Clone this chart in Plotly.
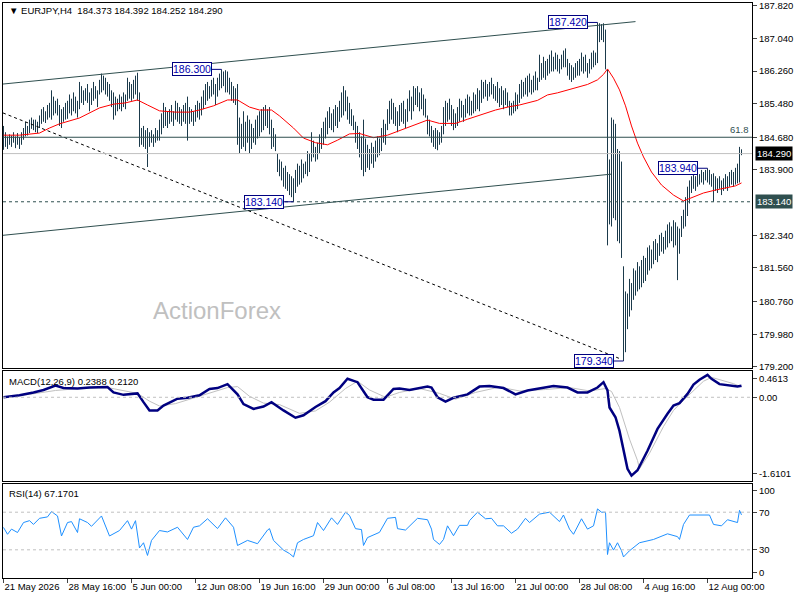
import plotly.graph_objects as go

# EURJPY H4 bars (high / low per bar)
highs = [
    184.95, 184.80, 184.70, 184.75, 184.72, 184.80, 184.70, 184.78, 184.68, 184.80, 184.90, 185.05, 184.95, 185.10, 185.15, 185.10,
    185.10, 185.05, 185.20, 185.35, 185.40, 185.30, 185.45, 185.50, 185.80, 185.65, 185.55, 185.60, 185.45, 185.35, 185.40, 185.50,
    185.55, 185.70, 185.60, 185.75, 185.65, 185.55, 186.00, 185.90, 185.80, 185.85, 185.95, 185.75, 185.85, 186.00, 185.90, 185.80,
    186.05, 186.20, 186.15, 186.10, 186.00, 185.95, 185.80, 185.75, 185.65, 185.60, 185.70, 185.65, 185.75, 185.70, 186.10, 186.00,
    185.95, 186.05, 186.15, 186.22, 185.75, 184.90, 184.95, 184.85, 184.90, 184.80, 184.85, 184.75, 184.90, 184.85, 185.10, 185.25,
    185.50, 185.40, 185.30, 185.35, 185.45, 185.30, 185.55, 185.50, 185.40, 185.35, 185.45, 185.50, 185.65, 185.40, 185.35, 185.30,
    185.45, 185.55, 185.50, 185.65, 185.80, 185.95, 186.00, 185.90, 186.05, 186.10, 185.95, 186.10, 186.20, 186.30, 186.25, 186.28,
    186.25, 186.10, 186.00, 185.90, 185.85, 185.95, 185.15, 185.00, 185.30, 185.05, 185.20, 185.10, 185.00, 184.90, 185.10, 185.20,
    185.30, 185.35, 185.40, 185.45, 185.35, 185.40, 185.10, 184.90, 184.75, 184.30, 184.15, 184.10, 183.95, 184.00, 183.85, 183.80,
    183.75, 183.70, 183.90, 184.05, 184.00, 184.15, 184.05, 184.10, 184.35, 184.30, 184.80, 184.60, 184.45, 184.55, 184.75, 184.90,
    185.05, 185.15, 185.30, 185.40, 185.25, 185.35, 185.45, 185.40, 185.55, 185.75, 185.90, 185.80, 185.65, 185.50, 185.35, 185.20,
    185.05, 184.95, 184.80, 184.70, 185.10, 184.65, 184.50, 184.40, 184.55, 184.45, 184.60, 184.70, 184.65, 184.90, 185.10, 185.00,
    185.35, 185.55, 185.60, 185.50, 185.40, 185.30, 185.45, 185.50, 185.55, 185.35, 185.60, 185.80, 185.65, 185.90, 185.85, 185.90,
    185.75, 185.85, 185.70, 185.60, 185.20, 185.10, 184.95, 184.85, 184.90, 184.85, 184.80, 184.95, 185.40, 185.55, 185.50, 185.60,
    185.45, 185.35, 185.25, 185.40, 185.60, 185.55, 185.45, 185.60, 185.70, 185.65, 185.55, 185.75, 185.70, 185.85, 185.80, 186.05,
    186.00, 186.05, 185.95, 186.00, 186.10, 185.95, 185.90, 186.00, 185.85, 185.90, 185.80, 185.85, 185.75, 185.55, 185.50, 185.55,
    185.75, 185.70, 185.95, 186.05, 186.00, 186.10, 186.15, 186.20, 186.05, 186.15, 186.25, 186.10, 186.65, 186.45, 186.60, 186.50,
    186.55, 186.65, 186.75, 186.60, 186.70, 186.65, 186.55, 186.65, 186.75, 186.80, 186.55, 186.45, 186.40, 186.35, 186.45, 186.50,
    186.55, 186.70, 186.60, 186.65, 186.45, 186.55, 186.70, 186.75, 186.70, 187.42, 187.40, 187.38, 187.40, 187.25, 186.30, 184.15,
    185.15, 185.10, 185.00, 184.40, 184.35, 184.10, 181.60, 181.00, 180.95, 181.30, 181.20, 181.55, 181.50, 181.70, 181.60, 181.75,
    181.85, 181.80, 182.05, 182.10, 182.00, 182.20, 182.25, 182.15, 182.35, 182.40, 182.30, 182.45, 182.60, 182.65, 182.55, 182.70,
    182.65, 182.55, 182.50, 182.80, 182.95, 183.25, 183.50, 183.65, 183.75, 183.80, 183.75, 183.85, 183.80, 183.90, 183.85, 183.90,
    183.94, 183.90, 183.80, 183.82, 183.75, 183.70, 183.75, 183.65, 183.70, 183.80, 183.75, 183.85, 183.90, 183.85, 183.95, 184.05,
    184.45, 184.392,
]
lows = [
    184.38, 184.45, 184.40, 184.50, 184.45, 184.55, 184.42, 184.50, 184.40, 184.50, 184.62, 184.70, 184.72, 184.78, 184.88, 184.85,
    184.80, 184.78, 184.90, 185.00, 185.05, 185.02, 185.10, 185.15, 185.10, 185.20, 185.25, 185.20, 184.95, 184.90, 185.05, 185.10,
    185.12, 185.25, 185.20, 185.30, 185.25, 185.15, 185.35, 185.50, 185.45, 185.55, 185.50, 185.30, 185.45, 185.55, 185.60, 185.40,
    185.70, 185.75, 185.80, 185.70, 185.65, 185.55, 185.40, 185.10, 185.20, 185.30, 185.35, 185.30, 185.40, 185.35, 185.55, 185.60,
    185.55, 185.60, 185.70, 185.55, 184.45, 184.50, 184.45, 184.40, 183.97, 184.45, 184.55, 184.45, 184.55, 184.60, 184.60, 184.75,
    184.90, 184.95, 184.90, 185.00, 185.05, 184.95, 185.10, 185.05, 185.00, 184.95, 185.05, 185.00, 184.60, 185.00, 185.05, 184.95,
    185.05, 185.15, 185.10, 185.20, 185.35, 185.45, 185.55, 185.60, 185.65, 185.70, 185.45, 185.65, 185.80, 185.85, 185.90, 185.75,
    185.75, 185.70, 185.55, 185.50, 185.45, 184.50, 184.30, 184.40, 184.45, 184.35, 184.55, 184.30, 184.40, 184.55, 184.50, 184.65,
    184.70, 184.80, 184.85, 184.95, 184.90, 184.75, 184.40, 184.45, 184.35, 183.85, 183.75, 183.65, 183.50, 183.45, 183.40, 183.30,
    183.25, 183.14, 183.35, 183.50, 183.55, 183.60, 183.70, 183.80, 183.75, 183.85, 184.10, 184.20, 184.10, 184.15, 184.30, 184.40,
    184.50, 184.65, 184.75, 184.90, 184.85, 184.80, 184.95, 184.90, 185.05, 185.15, 185.20, 185.30, 185.10, 185.00, 184.95, 184.85,
    184.55, 184.40, 184.20, 183.90, 183.75, 183.85, 183.95, 183.90, 184.05, 183.95, 184.10, 184.20, 184.25, 184.35, 184.55, 184.50,
    184.85, 185.00, 185.10, 185.00, 184.95, 184.80, 184.95, 185.05, 185.00, 184.90, 185.05, 185.30, 185.10, 185.30, 185.45, 185.40,
    185.30, 185.35, 185.20, 185.15, 184.75, 184.70, 184.55, 184.45, 184.40, 184.37, 184.50, 184.55, 184.75, 184.95, 185.05, 185.10,
    184.95, 184.85, 184.90, 184.95, 185.05, 185.15, 185.05, 185.15, 185.25, 185.20, 185.20, 185.25, 185.30, 185.35, 185.30, 185.50,
    185.60, 185.65, 185.55, 185.65, 185.70, 185.60, 185.55, 185.50, 185.40, 185.45, 185.35, 185.45, 185.40, 185.20, 185.20, 185.25,
    185.30, 185.35, 185.50, 185.60, 185.65, 185.70, 185.65, 185.75, 185.70, 185.75, 185.80, 185.80, 186.00, 186.05, 186.10, 186.05,
    186.15, 186.20, 186.25, 186.25, 186.30, 186.25, 186.20, 186.30, 186.35, 186.35, 186.15, 186.05, 186.00, 186.05, 186.10, 186.15,
    186.15, 186.25, 186.20, 186.25, 186.10, 186.20, 186.30, 186.35, 186.40, 186.45, 186.95, 187.00, 186.95, 186.30, 182.10, 182.60,
    182.55, 182.75, 182.70, 182.20, 182.15, 181.80, 179.34, 179.55, 180.10, 180.40, 180.55, 180.80, 180.90, 181.00, 181.05, 181.10,
    181.20, 181.25, 181.40, 181.50, 181.55, 181.65, 181.75, 181.70, 181.85, 181.95, 181.90, 182.00, 182.05, 182.15, 182.20, 182.05,
    182.10, 181.27, 181.90, 182.30, 182.50, 182.55, 182.80, 183.10, 183.35, 183.45, 183.40, 183.50, 183.55, 183.60, 183.55, 183.65,
    183.60, 183.55, 183.50, 183.14, 183.40, 183.35, 183.45, 183.30, 183.40, 183.45, 183.40, 183.50, 183.55, 183.50, 183.55, 183.58,
    183.60, 184.252,
]
last_ohlc = [184.373, 184.392, 184.252, 184.290]

# red moving average (bar index, value)
ma_idx = [0, 8, 18, 23, 28, 38, 48, 55, 61, 67, 72, 78, 86, 93, 98, 105, 112, 117, 123, 128, 134, 138,
          145, 150, 156, 162, 167, 173, 178, 185, 192, 198, 205, 212, 218, 226, 232, 238, 246, 253, 258,
          267, 272, 277, 285, 292, 297, 300, 302, 305, 308, 311, 314, 317, 320, 324, 329, 335, 340, 345,
          350, 356, 362, 366, 369]
ma_val = [184.73, 184.73, 184.78, 184.90, 185.00, 185.14, 185.38, 185.47, 185.50, 185.57, 185.45, 185.31,
          185.28, 185.28, 185.33, 185.43, 185.57, 185.57, 185.40, 185.33, 185.33, 185.19, 184.90, 184.66,
          184.55, 184.50, 184.61, 184.76, 184.77, 184.67, 184.73, 184.84, 184.97, 185.09, 185.01, 185.01,
          185.11, 185.21, 185.33, 185.41, 185.45, 185.56, 185.69, 185.74, 185.85, 185.94, 186.05, 186.18,
          186.31, 186.09, 185.81, 185.43, 184.95, 184.54, 184.21, 183.85, 183.54, 183.30, 183.16, 183.25,
          183.35, 183.42, 183.47, 183.52, 183.59]

# MACD(12,26,9)
macd_idx = [0, 8, 15, 20, 26, 30, 37, 43, 52, 55, 60, 67, 70, 73, 77, 80, 87, 92, 98, 103, 107, 112,
            117, 120, 125, 130, 134, 140, 146, 150, 156, 161, 165, 168, 172, 177, 182, 185, 190, 195,
            198, 203, 212, 214, 217, 221, 225, 232, 238, 243, 250, 256, 262, 268, 275, 282, 287, 292,
            297, 300, 302, 303, 306, 308, 310, 312, 314, 317, 322, 327, 332, 335, 338, 342, 345, 348,
            352, 354, 358, 363, 367, 369]
macd_val = [0.00, 0.04, 0.10, 0.15, 0.24, 0.19, 0.18, 0.20, 0.21, 0.10, 0.05, 0.08, -0.10, -0.27, -0.27,
            -0.17, -0.03, -0.01, 0.04, 0.17, 0.19, 0.27, 0.06, -0.14, -0.24, -0.19, -0.10, -0.27, -0.42,
            -0.37, -0.20, -0.08, 0.10, 0.19, 0.38, 0.31, 0.00, -0.05, -0.05, 0.17, 0.18, 0.15, 0.22, 0.20,
            0.00, -0.09, -0.01, 0.06, 0.22, 0.23, 0.19, 0.06, 0.14, 0.18, 0.23, 0.20, 0.10, 0.10, 0.20,
            0.31, 0.14, -0.21, -0.41, -0.69, -1.10, -1.47, -1.6101, -1.50, -1.10, -0.65, -0.34, -0.17,
            -0.12, 0.07, 0.26, 0.36, 0.4613, 0.38, 0.27, 0.24, 0.22, 0.2388]
signal_idx = [0, 13, 26, 38, 52, 58, 67, 73, 78, 86, 93, 103, 112, 117, 123, 130, 138, 148, 156, 163,
              171, 177, 183, 191, 198, 208, 218, 226, 236, 248, 258, 271, 283, 293, 301, 304, 308, 313,
              317, 318, 323, 330, 335, 340, 345, 350, 354, 358, 365, 369]
signal_val = [0.00, 0.06, 0.14, 0.18, 0.20, 0.15, 0.08, -0.08, -0.18, -0.13, -0.04, 0.08, 0.20, 0.22,
              0.02, -0.12, -0.15, -0.33, -0.28, -0.10, 0.18, 0.33, 0.15, 0.00, 0.10, 0.18, 0.08, -0.04,
              0.10, 0.21, 0.13, 0.16, 0.20, 0.13, 0.18, 0.12, -0.21, -0.86, -1.30, -1.47, -1.15, -0.60,
              -0.27, -0.06, 0.14, 0.33, 0.41, 0.36, 0.28, 0.2120]

# RSI(14)
rsi_idx = [0, 2, 4, 7, 10, 13, 15, 18, 22, 24, 27, 29, 32, 34, 37, 38, 42, 44, 49, 53, 58, 62, 64, 66,
           68, 70, 72, 74, 78, 82, 87, 92, 95, 98, 102, 107, 111, 115, 117, 122, 127, 132, 133, 135,
           140, 143, 145, 147, 150, 155, 157, 160, 164, 167, 171, 173, 176, 179, 180, 182, 188, 192,
           196, 197, 201, 205, 207, 212, 214, 215, 218, 220, 222, 225, 228, 232, 233, 237, 241, 244,
           247, 250, 254, 257, 261, 263, 268, 273, 278, 280, 283, 285, 289, 292, 295, 297, 299, 301,
           302, 303, 305, 307, 309, 310, 313, 318, 325, 332, 337, 338, 340, 343, 348, 353, 355, 359,
           362, 367, 368, 369]
rsi_val = [53.8, 46.5, 52, 48.4, 59, 61, 57, 63.5, 65, 70.7, 66, 44.7, 59, 60, 48.4, 63, 59, 55, 66,
           44.7, 50.5, 61, 52, 61, 32, 37.5, 24, 40, 50.5, 49, 54, 41, 54, 55.5, 63, 52.6, 64, 54, 34.6,
           40, 36.5, 51, 52.5, 40, 29.7, 26, 22.4, 37.5, 41, 45, 59, 50.5, 64, 57, 70, 66.5, 52.5, 51.5,
           34.6, 43, 48.6, 63.5, 64.5, 52.5, 51, 60, 63.5, 62, 52, 41, 35.7, 41, 55.5, 45, 56, 56, 61,
           70, 63, 63.5, 55.5, 55.5, 47.6, 52, 63.5, 59, 68, 70, 60, 67, 52, 46.5, 63, 52, 55.5, 73.5,
           70, 70, 25, 37.5, 29.7, 37.5, 29, 22.4, 29, 37.5, 41, 47, 44, 41, 57, 67, 67, 67, 57, 55.5,
           62, 59, 72, 67.1701]

# analyst lines: start index, start price, end index, end price
trend_lines = {
    "upper": (-0.25, 185.95, 316, 187.44),
    "lower": (-0.25, 182.34, 304, 183.80),
    "fall": (-0.25, 185.26, 309, 179.38),
}
fib_level = 184.68
support_level = 183.14
label_bars = [109, 145, 297, 310, 352]
label_side = ["high", "low", "high", "low", "high"]

tick_idx = [0, 32, 64, 96, 128, 160, 192, 224, 256, 288, 320, 352]
tick_text = ["21 May 2026", "28 May 16:00", "5 Jun 00:00", "12 Jun 08:00", "19 Jun 16:00",
             "29 Jun 00:00", "6 Jul 08:00", "13 Jul 16:00", "21 Jul 00:00", "28 Jul 08:00",
             "4 Aug 16:00", "12 Aug 00:00"]
price_ticks = [187.82, 187.04, 186.26, 185.48, 184.68, 183.90, 182.34, 181.56, 180.76, 179.98, 179.20]

FONT = "Liberation Sans"
BAR = "#1b3a4b"
SLATE = "#2f4f4f"

idx = list(range(len(highs)))
close = last_ohlc[3]

# each bar as a vertical stroke from low to high
bar_x, bar_y = [], []
for i, h, l in zip(idx, highs, lows):
    bar_x += [i, i, None]
    bar_y += [l, h, None]

fig = go.Figure()
fig.add_trace(go.Scatter(x=bar_x, y=bar_y, mode="lines", line=dict(color=BAR, width=1),
                         hoverinfo="skip", connectgaps=False))
fig.add_trace(go.Scatter(x=ma_idx, y=ma_val, mode="lines",
                         line=dict(color="#ff0000", width=1), hoverinfo="skip"))
fig.add_trace(go.Scatter(x=signal_idx, y=signal_val, mode="lines",
                         line=dict(color="#c0c0c0", width=1), xaxis="x2", yaxis="y2", hoverinfo="skip"))
fig.add_trace(go.Scatter(x=macd_idx, y=macd_val, mode="lines",
                         line=dict(color="#000080", width=2.5), xaxis="x2", yaxis="y2", hoverinfo="skip"))
fig.add_trace(go.Scatter(x=rsi_idx, y=rsi_val, mode="lines",
                         line=dict(color="#1e90ff", width=1), xaxis="x3", yaxis="y3", hoverinfo="skip"))

shapes = []
for name, (i0, p0, i1, p1) in trend_lines.items():
    dash = "3px,3px" if name == "fall" else "solid"
    color = "#000000" if name == "fall" else SLATE
    shapes.append(dict(type="line", xref="x", yref="y", x0=i0, y0=p0, x1=i1, y1=p1,
                       line=dict(color=color, width=1, dash=dash)))
shapes.append(dict(type="line", xref="x domain", yref="y", x0=0, x1=1, y0=fib_level, y1=fib_level,
                   line=dict(color=SLATE, width=1)))
shapes.append(dict(type="line", xref="x domain", yref="y", x0=0, x1=1, y0=close, y1=close,
                   line=dict(color="#c0c0c0", width=1)))
shapes.append(dict(type="line", xref="x domain", yref="y", x0=0, x1=1, y0=support_level, y1=support_level,
                   line=dict(color=SLATE, width=1, dash="3px,3px")))
shapes.append(dict(type="line", xref="x2 domain", yref="y2", x0=0, x1=1, y0=0, y1=0,
                   line=dict(color="#c0c0c0", width=1, dash="3px,3px")))
for lvl in (70, 30):
    shapes.append(dict(type="line", xref="x3 domain", yref="y3", x0=0, x1=1, y0=lvl, y1=lvl,
                       line=dict(color="#c0c0c0", width=1, dash="3px,3px")))

annotations = []
for b, side in zip(label_bars, label_side):
    p = highs[b] if side == "high" else lows[b]
    shapes.append(dict(type="line", xref="x", yref="y", x0=b - 5, x1=b, y0=p, y1=p,
                       line=dict(color="#000080", width=1)))
    annotations.append(dict(x=b - 5, y=p, xref="x", yref="y", xanchor="right", yanchor="middle",
                            text=f"{p:.3f}", showarrow=False, bgcolor="white",
                            bordercolor="#000080", borderwidth=1, borderpad=0,
                            font=dict(family=FONT, size=10.5, color="#0000b0")))

small = dict(family=FONT, size=9.5, color="black")
annotations += [
    dict(x=7 / 800, y=1 - 11 / 600, xref="paper", yref="paper", xanchor="left", yanchor="middle",
         showarrow=False, font=small,
         text="▼ EURJPY,H4  " + " ".join(f"{v:.3f}" for v in last_ohlc)),
    dict(x=7 / 800, y=1 - 381 / 600, xref="paper", yref="paper", xanchor="left", yanchor="middle",
         showarrow=False, font=small,
         text=f"MACD(12,26,9) {macd_val[-1]:.4f} {signal_val[-1]:.4f}"),
    dict(x=7 / 800, y=1 - 493 / 600, xref="paper", yref="paper", xanchor="left", yanchor="middle",
         showarrow=False, font=small, text=f"RSI(14) {rsi_val[-1]:.4f}"),
    dict(x=217 / 800, y=1 - 310 / 600, xref="paper", yref="paper", xanchor="center", yanchor="middle",
         showarrow=False, text="ActionForex", font=dict(family=FONT, size=24, color="#c0c0c0")),
    dict(x=751 / 800, y=fib_level, xref="paper", yref="y", xanchor="right", yanchor="bottom",
         showarrow=False, text="61.8", font=dict(family=FONT, size=9.5, color=SLATE)),
    dict(x=755 / 800, y=close, xref="paper", yref="y", xanchor="left", yanchor="middle",
         showarrow=False, text=f"{close:.3f}", bgcolor="black", borderpad=1,
         font=dict(family=FONT, size=9.5, color="white")),
    dict(x=755 / 800, y=support_level, xref="paper", yref="y", xanchor="left", yanchor="middle",
         showarrow=False, text=f"{support_level:.3f}", bgcolor=SLATE, borderpad=1,
         font=dict(family=FONT, size=9.5, color="white")),
]

xdom = [3 / 800, 752 / 800]
xrange_ = [-0.25, 374.25]
frame = dict(showline=True, mirror=True, linecolor="black", linewidth=1,
             showgrid=False, zeroline=False, fixedrange=True, automargin=False)

fig.update_layout(
    width=800, height=600,
    margin=dict(l=0, r=0, t=0, b=0, autoexpand=False),
    paper_bgcolor="white", plot_bgcolor="white",
    showlegend=False, hovermode=False,
    font=small,
    xaxis=dict(domain=xdom, range=xrange_, anchor="y", showticklabels=False, **frame),
    xaxis2=dict(domain=xdom, range=xrange_, anchor="y2", showticklabels=False, matches="x", **frame),
    xaxis3=dict(domain=xdom, range=xrange_, anchor="y3", matches="x",
                tickvals=tick_idx, ticktext=tick_text, ticks="outside", ticklen=4, tickangle=0,
                ticklabelposition="outside right", tickfont=small, **frame),
    yaxis=dict(domain=[1 - 368 / 600, 1 - 3 / 600], range=[179.173, 187.884], anchor="x", side="right",
               tickvals=price_ticks, ticktext=[f"{v:.3f}" for v in price_ticks],
               ticks="outside", ticklen=4, tickfont=small, **frame),
    yaxis2=dict(domain=[1 - 481 / 600, 1 - 371 / 600], range=[-1.72, 0.54], anchor="x2", side="right",
                tickvals=[0.376, 0, -1.576], ticktext=["0.4613", "0.00", "-1.6101"],
                ticks="outside", ticklen=4, tickfont=small, **frame),
    yaxis3=dict(domain=[1 - 578 / 600, 1 - 484 / 600], range=[0, 100], anchor="x3", side="right",
                tickvals=[93, 70, 30, 6], ticktext=["100", "70", "30", "0"],
                ticks="outside", ticklen=4, tickfont=small, **frame),
    shapes=shapes,
    annotations=annotations,
)

# the page body has a default margin; drop it so the chart fills the window
fig.write_html("out.html", config={"displayModeBar": False},
               post_script="document.body.style.margin='0';")
